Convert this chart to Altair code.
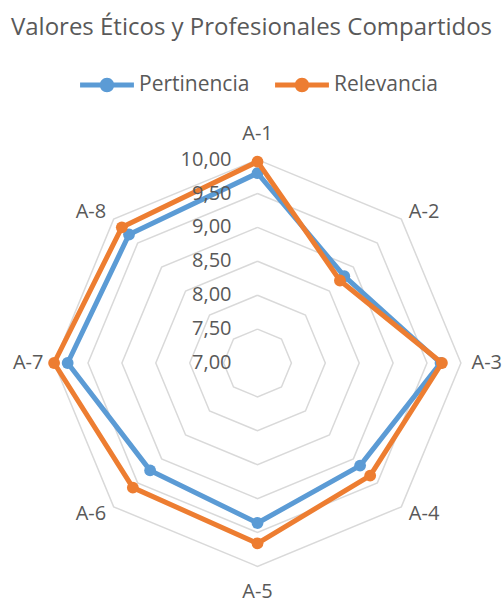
import math
import altair as alt
import pandas as pd

# ---------------- data ----------------
categories = ["A-1", "A-2", "A-3", "A-4", "A-5", "A-6", "A-7", "A-8"]
pertinencia = [9.80, 8.81, 9.70, 9.14, 9.36, 9.24, 9.80, 9.68]
relevancia = [9.97, 8.72, 9.72, 9.35, 9.66, 9.60, 10.00, 9.83]
series_names = ["Pertinencia", "Relevancia"]
series_colors = ["#5B9BD5", "#ED7D31"]
tick_values = [7.0, 7.5, 8.0, 8.5, 9.0, 9.5, 10.0]
tick_labels = ["7,00", "7,50", "8,00", "8,50", "9,00", "9,50", "10,00"]
title_text = "Valores Éticos y Profesionales Compartidos"

# ---------------- layout constants ----------------
W, H = 503, 599
TOP = 110           # plot area top (title + legend above)
CX, CY = 257.5, 363.0   # centre of radar in page pixels
K = 67.8            # pixels per value unit
BASE = tick_values[0]
N = len(categories)
TEXT = "#595959"
FONT = "Open Sans"

xdom = [-CX / K, (W - CX) / K]
ydom = [-(H - CY) / K, (CY - TOP) / K]

# ---------------- tables ----------------
rows = []
for s, vals in zip(series_names, [pertinencia, relevancia]):
    for i in range(N + 1):
        j = i % N
        rows.append({"serie": s, "cat": categories[j], "idx": j, "ord": i, "valor": vals[j]})
series_df = pd.DataFrame(rows)

grid_rows = []
for v in tick_values[1:]:
    for i in range(N + 1):
        grid_rows.append({"nivel": v, "idx": i % N, "ord": i, "valor": v})
grid_df = pd.DataFrame(grid_rows)

tick_df = pd.DataFrame({"valor": tick_values, "label": tick_labels})
cat_df = pd.DataFrame({"cat": categories, "idx": list(range(N))})

xs = alt.X("x:Q", scale=alt.Scale(domain=xdom, nice=False, zero=False), axis=None)
ys = alt.Y("y:Q", scale=alt.Scale(domain=ydom, nice=False, zero=False), axis=None)

ang = f"datum.idx * 2 * PI / {N}"


def polar(ch, radius_expr):
    return ch.transform_calculate(
        ang=ang,
        r=radius_expr,
    ).transform_calculate(
        x="datum.r * sin(datum.ang)",
        y="datum.r * cos(datum.ang)",
    )


grid = polar(alt.Chart(grid_df), f"datum.valor - {BASE}").mark_line(
    color="#D9D9D9", strokeWidth=1.5
).encode(x=xs, y=ys, detail="nivel:N", order="ord:Q")

color_scale = alt.Scale(domain=series_names, range=series_colors)
legend = alt.Legend(
    title=None,
    orient="none",
    direction="horizontal",
    legendX=80,
    legendY=-52,
    symbolType="M-1,-0.09L1,-0.09L1,0.09L-1,0.09Z M-0.27,0A0.27,0.27 0 1,1 0.27,0A0.27,0.27 0 1,1 -0.27,0Z",
    symbolSize=2900,
    symbolStrokeWidth=0,
    symbolOpacity=1,
    labelFont=FONT,
    labelFontSize=21,
    labelColor=TEXT,
    labelOffset=5,
    columnPadding=25,
)

layers = [grid]
for s, col in zip(series_names, series_colors):
    base = polar(alt.Chart(series_df), f"datum.valor - {BASE}").transform_filter(
        alt.datum.serie == s
    )
    line = base.mark_line(strokeWidth=5, strokeJoin="round", color=col).encode(
        x=xs, y=ys, order="ord:Q",
    )
    pts = base.transform_filter(alt.datum.ord < N).mark_point(
        filled=True, size=140, opacity=1
    ).encode(
        x=xs, y=ys,
        color=alt.Color("serie:N", scale=color_scale, legend=legend),
    )
    layers += [line, pts]

ticks = alt.Chart(tick_df).transform_calculate(
    x="0", y=f"datum.valor - {BASE}"
).mark_text(align="right", baseline="middle", dx=-26, fontSize=20, font=FONT, color=TEXT).encode(
    x=xs, y=ys, text="label:N"
)
layers.append(ticks)

R_SIDE = 214 / K
R_VERT = 229 / K
cat_base = alt.Chart(cat_df).transform_calculate(
    ang=ang
).transform_calculate(
    r=f"abs(sin(datum.ang)) < 0.01 ? {R_VERT} : {R_SIDE}"
).transform_calculate(
    x="datum.r * sin(datum.ang)", y="datum.r * cos(datum.ang)", s="sin(datum.ang)"
)
for cond, al in [("datum.s > 0.01", "left"), ("datum.s < -0.01", "right"), ("abs(datum.s) <= 0.01", "center")]:
    layers.append(
        cat_base.transform_filter(cond).mark_text(
            align=al, baseline="middle", fontSize=20, font=FONT, color=TEXT
        ).encode(x=xs, y=ys, text="cat:N")
    )

chart = alt.layer(*layers).properties(
    width=W,
    height=H - TOP,
    padding={"left": 0, "top": TOP, "right": 0, "bottom": 0},
    autosize=alt.AutoSizeParams(type="none"),
    title=alt.TitleParams(
        title_text, fontSize=24, font=FONT, color=TEXT, fontWeight="normal",
        anchor="middle", offset=18,
    ),
).configure_view(stroke=None)

chart.save("out.html", embed_options={"renderer": "svg", "actions": False})
